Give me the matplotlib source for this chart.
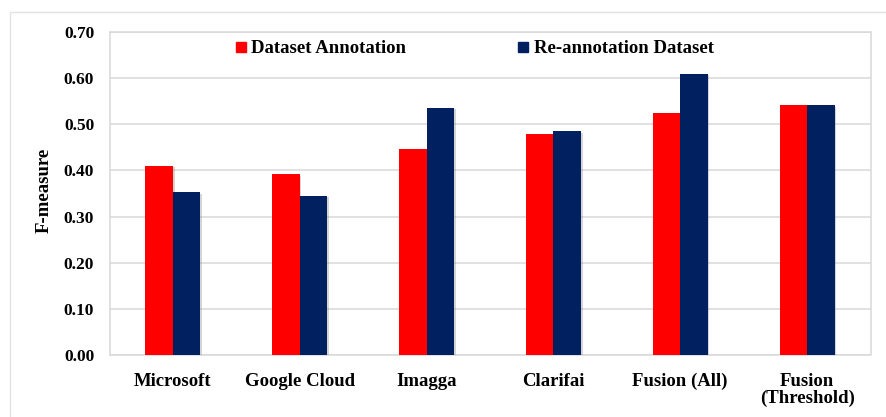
import matplotlib
matplotlib.use("Agg")
import matplotlib.pyplot as plt
import numpy as np
from matplotlib.lines import Line2D
from matplotlib.patches import Rectangle
import matplotlib.patheffects as pe

categories = ["Microsoft", "Google Cloud", "Imagga", "Clarifai", "Fusion (All)", "Fusion\n(Threshold)"]
dataset_annotation = [0.410, 0.392, 0.446, 0.480, 0.525, 0.542]
reannotation_dataset = [0.353, 0.345, 0.536, 0.485, 0.610, 0.542]
series_names = ["Dataset Annotation", "Re-annotation Dataset"]
yticks = [0.0, 0.1, 0.2, 0.3, 0.4, 0.5, 0.6, 0.7]

RED = "#FF0000"
NAVY = "#002060"
GRID = "#d9d9d9"
FONT = ["Liberation Serif", "DejaVu Serif"]

plt.rcParams["font.family"] = FONT
plt.rcParams["font.weight"] = "bold"

W, H = 886, 417
fig = plt.figure(figsize=(W / 100, H / 100), dpi=100)
fig.patch.set_facecolor("white")

left, right, top, bottom = 109.5, 870.5, 32, 355
ax = fig.add_axes([left / W, 1 - bottom / H, (right - left) / W, (bottom - top) / H])

x = np.arange(len(categories))
bw = 0.217
shadow = [pe.SimplePatchShadow(offset=(1.2, -1.2), shadow_rgbFace="#888888", alpha=0.35), pe.Normal()]
b1 = ax.bar(x - bw / 2, dataset_annotation, bw, color=RED, zorder=3)
b2 = ax.bar(x + bw / 2, reannotation_dataset, bw, color=NAVY, zorder=3)
for b in list(b1) + list(b2):
    b.set_path_effects(shadow)

ax.set_xlim(-0.5, len(categories) - 0.5)
ax.set_ylim(0, 0.7)
ax.set_yticks(yticks)
ax.set_yticklabels([f"{v:.2f}" for v in yticks])
ax.set_xticks(x)
ax.set_xticklabels(categories, linespacing=0.95)
ax.tick_params(axis="y", length=0, pad=11, labelsize=12.5)
ax.tick_params(axis="x", length=0, pad=13, labelsize=13.5)
for lbl in ax.get_xticklabels() + ax.get_yticklabels():
    lbl.set_fontweight("bold")

ax.yaxis.grid(True, color=GRID, lw=1.1, zorder=0)
ax.set_axisbelow(True)
for s in ax.spines.values():
    s.set_color(GRID)
    s.set_linewidth(1.1)

ax.set_ylabel("F-measure", fontsize=13.5, fontweight="bold")
ax.yaxis.set_label_coords(53 / W, (H - 190) / H, transform=fig.transFigure)

handles = [Line2D([], [], marker="s", color="none", markerfacecolor=RED, markeredgecolor=RED, markersize=6.5),
           Line2D([], [], marker="s", color="none", markerfacecolor=NAVY, markeredgecolor=NAVY, markersize=6.5)]
leg = fig.legend(handles, series_names, ncol=2, loc="center left",
                 bbox_to_anchor=(236 / W, 1 - 48.5 / H), frameon=False,
                 prop={"family": FONT, "weight": "bold", "size": 13.5},
                 handlelength=0.5, handletextpad=0.3, columnspacing=6.0,
                 borderpad=0, borderaxespad=0)

fig.add_artist(Rectangle((10 / W, -0.1), 2, (H - 12) / H + 0.1, transform=fig.transFigure,
                         fill=False, ec="#e3e3e3", lw=1))

fig.savefig("out.png", dpi=100)
